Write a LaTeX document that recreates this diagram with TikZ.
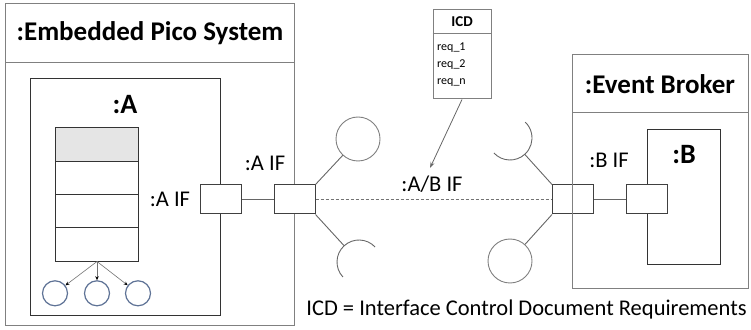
\documentclass[tikz,border=0pt]{standalone}
\usepackage{fontspec}
\setmainfont{Carlito}
\usetikzlibrary{calc, arrows.meta, positioning}

\definecolor{tokenblue}{RGB}{95,115,150}

\tikzset{
  frame/.style={draw=black!50, line width=1pt},
  partbox/.style={draw=black!80, line width=1pt},
  ifport/.style={draw=black!75, fill=white, line width=1pt,
    minimum width=41pt, minimum height=29pt, inner sep=0pt},
  ball/.style={circle, draw=black!50, line width=0.9pt,
    minimum size=44pt, inner sep=0pt},
  stem/.style={draw=black!60, line width=0.9pt},
  token/.style={circle, draw=tokenblue, line width=1.2pt,
    minimum size=25pt, inner sep=0pt},
  lbl/.style={font=\fontsize{22.5}{27}\selectfont, inner sep=0pt},
  title/.style={font=\fontsize{27}{32}\selectfont\bfseries, inner sep=0pt},
  partname/.style={font=\fontsize{28}{32}\selectfont\bfseries, inner sep=0pt}
}

\begin{document}
\begin{tikzpicture}[>=Stealth, x=1pt, y=1pt]
    \useasboundingbox (0,0) rectangle (751,329);

    % --- Embedded Pico System ---
    \draw[frame] (5,4) rectangle (294,325);
    \draw[frame] (5,266) -- (294,266);
    \node[title] (sysname) at (150,295.5) {:Embedded Pico System};

    % --- Part A with its stack ---
    \draw[partbox] (30,14) rectangle (220,250);
    \node[partname] (aname) at (125,224) {:A};
    \fill[black!10] (55,167) rectangle (138,201);
    \foreach \ya/\yb in {201/167, 167/134, 134/101, 101/67.5}
      \draw[partbox] (55,\yb) rectangle (138,\ya);

    % --- Tokens below the stack ---
    \coordinate (stackfoot) at (97,67.5);
    \foreach \x/\n in {55/1, 97/2, 138/3}
      \node[token] (tok\n) at (\x,35.7) {};
    \foreach \n in {1,2,3}
      \draw[black!55, line width=0.6pt, -{Stealth[length=4pt, width=3.5pt, black]}]
        (stackfoot) -- (tok\n);

    % --- Ports ---
    \node[ifport] (portA)  at (220.5,129.5) {};
    \node[ifport] (portAx) at (294.5,129.5) {};
    \node[ifport] (portBx) at (573,129.5) {};
    \node[ifport] (portB)  at (647,129.5) {};

    \node[lbl] (portAname)  at (170,129.5) {:A IF};
    \node[lbl] (portAxname) at (265,166) {:A IF};
    \node[lbl] (portBname)  at (609,169) {:B IF};

    \draw[stem] (portA) -- (portAx);
    \draw[stem] (portBx) -- (portB);

    % --- Dashed A/B link ---
    \draw[black!55, line width=0.8pt, dash pattern=on 3pt off 2pt]
      (portAx) -- (portBx);
    \node[lbl] (abname) at (432,145) {:A/B IF};

    % --- Left lollipop and socket ---
    \node[ball] (ballA) at (358,190) {};
    \draw[stem] (portAx.north east) -- (ballA);
    \coordinate (sockA) at (359,67);
    \coordinate (sockAend) at ($(sockA)!22pt!(portAx.south east)$);
    \draw[stem] (portAx.south east) -- (sockAend);
    \draw[stem] (sockA) ++(43:22) arc[start angle=43, end angle=223, radius=22];

    % --- Right socket and lollipop ---
    \coordinate (sockB) at (510,191);
    \coordinate (sockBend) at ($(sockB)!22pt!(portBx.north west)$);
    \draw[stem] (portBx.north west) -- (sockBend);
    \draw[stem] (sockB) ++(-137:22) arc[start angle=-137, end angle=46, radius=22];
    \node[ball] (ballB) at (510,68) {};
    \draw[stem] (portBx.south west) -- (ballB);

    % --- Event Broker with part B ---
    \draw[frame] (572,41) rectangle (748,274);
    \draw[frame] (572,216) -- (748,216);
    \node[title] (brokername) at (660,245) {:Event Broker};
    \draw[partbox] (647,64) rectangle (720,199);
    \node[partname] (bname) at (684,174) {:B};
    \node[ifport] at (portB) {};

    % --- ICD note ---
    \node[draw=black!50, line width=1pt, minimum width=58pt, minimum height=89pt,
      inner sep=0pt] (icd) at (462,274.5) {};
    \draw[black!50, line width=1pt] ($(icd.north west)+(0,-24)$) -- ($(icd.north east)+(0,-24)$);
    \node[font=\fontsize{15}{18}\selectfont\bfseries, inner sep=0pt] (icdname) at (462,307) {ICD};
    \node[font=\fontsize{12}{17}\selectfont, inner sep=0pt, align=left, anchor=west]
      (icdreqs) at (437,264) {req\_1\\req\_2\\req\_n};
    \coordinate (abtip) at (430,161);
    \draw[black!60, line width=0.8pt, -{Stealth[length=6pt, width=4pt]}] (icd.south) -- (abtip);

    % --- Legend ---
    \node[lbl] (legend) at (526.5,19) {ICD = Interface Control Document Requirements};
\end{tikzpicture}
\end{document}
